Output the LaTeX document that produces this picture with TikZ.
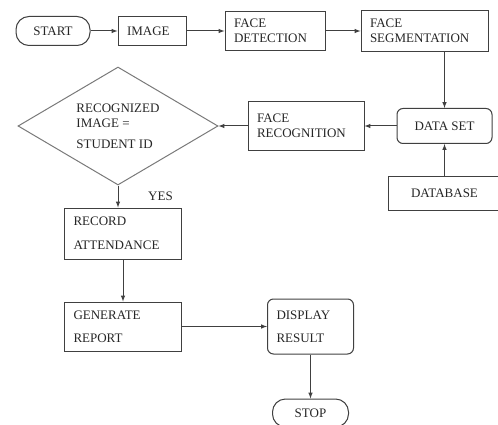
\documentclass[tikz,border=0pt]{standalone}
\usepackage{fontspec}
\setmainfont{Liberation Serif}
\usepackage{tikz}
\usetikzlibrary{positioning, shapes.geometric}
\definecolor{linec}{gray}{0.25}
\definecolor{textc}{gray}{0.15}

\begin{document}
\begin{tikzpicture}[x=1pt, y=1pt,
  font=\fontsize{13}{15}\selectfont, text=textc,
  box/.style={draw=linec, line width=1pt, align=left, inner xsep=9pt, inner ysep=3pt},
  term/.style={draw=linec, line width=1pt, rounded corners=13pt, inner sep=0pt},
  dia/.style={draw=linec!70, line width=1pt, diamond, aspect=1.7, inner sep=0pt, align=left},
  arr/.style={draw=linec, line width=1pt, -latex}]
  \useasboundingbox (0,0) rectangle (498,-425);

  \node[term, minimum width=74pt, minimum height=29pt] at (53,-31) (start) {START};
  \node[box, text width=50pt, minimum height=29pt, right=27pt of start] (image) {IMAGE};
  \node[box, text width=82pt, minimum height=39pt, right=38pt of image] (det) {FACE\\DETECTION};
  \node[box, text width=109pt, minimum height=41pt, right=35pt of det] (seg) {FACE\\SEGMENTATION};
  \node[box, rounded corners=6pt, align=center, minimum width=95pt, minimum height=35pt, below=56pt of seg, xshift=20pt] (dset) {DATA SET};
  \node[box, align=center, minimum width=112pt, minimum height=34pt, below=32pt of dset] (db) {DATABASE};
  \node[box, text width=98pt, minimum height=49pt, left=32pt of dset] (frec) {FACE\\RECOGNITION};
  \node[dia, minimum width=200pt, minimum height=118pt, left=29pt of frec] (test) {RECOGNIZED\\IMAGE =\\[6pt]STUDENT ID};
  \node[inner sep=0pt, below right=6pt and 30pt of test.south] (yes) {YES};
  \node[box, text width=99pt, minimum height=51pt, below=22pt of test, xshift=5pt] (rec) {RECORD\\[9pt]ATTENDANCE};
  \node[box, text width=99pt, minimum height=49pt, below=42pt of rec] (gen) {GENERATE\\[8pt]REPORT};
  \node[box, rounded corners=6pt, text width=68pt, minimum height=55pt, right=85pt of gen] (disp) {DISPLAY\\[8pt]RESULT};
  \node[term, minimum width=76pt, minimum height=28pt, below=44pt of disp] (stop) {STOP};

  \draw[arr] (start) -- (image);
  \draw[arr] (image) -- (det);
  \draw[arr] (det) -- (seg);
  \draw[arr] (dset.north |- seg.south) -- (dset.north);
  \draw[arr] (db) -- (dset);
  \draw[arr] (dset) -- (frec);
  \draw[arr] (frec) -- (test);
  \draw[arr] (test) -- (test.south |- rec.north);
  \draw[arr] (rec) -- (gen);
  \draw[arr] (gen) -- (disp);
  \draw[arr] (disp) -- (stop);
\end{tikzpicture}
\end{document}
